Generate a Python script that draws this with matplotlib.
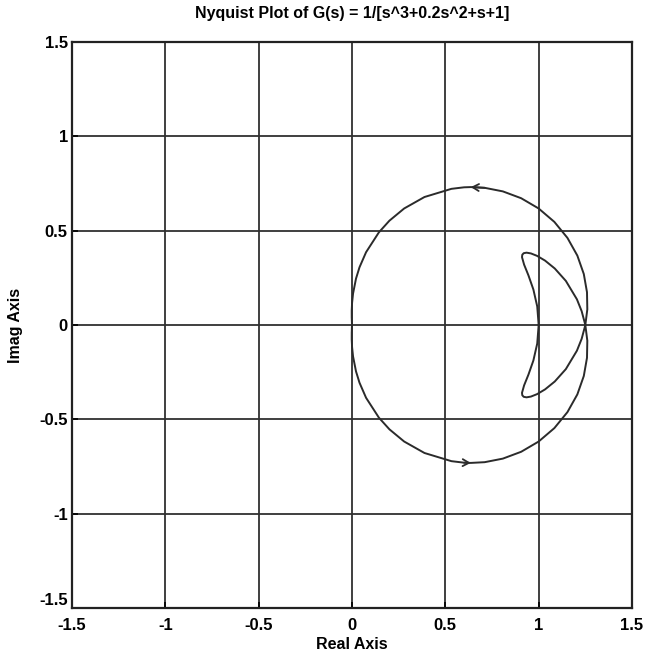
import matplotlib
matplotlib.use("Agg")
import matplotlib.pyplot as plt
import numpy as np

plt.rcParams['font.family'] = ['Liberation Sans', 'DejaVu Sans']
plt.rcParams['axes.unicode_minus'] = False

# G(jw), positive frequencies (w from 0 up)
re_pos = [1.0, 0.9923, 0.9717, 0.9453, 0.9220, 0.9107, 0.9123, 0.9200, 0.9351,
          0.9585, 0.9913, 1.0340, 1.0863, 1.1456, 1.2049, 1.2304, 1.25, 1.2606,
          1.2589, 1.2418, 1.2072, 1.1541, 1.0840, 0.9998, 0.9062, 0.8082, 0.7109,
          0.6362, 0.6004, 0.5326, 0.3883, 0.2794, 0.2004, 0.1441, 0.0754, 0.0402,
          0.0215, 0.0056, 0.0005, -0.0015, -0.0014, -0.0006, -0.0003, 0.0]
im_pos = [0.0, -0.0984, -0.1881, -0.2628, -0.3200, -0.3595, -0.3725, -0.3807, -0.3834,
          -0.3794, -0.3665, -0.3415, -0.2995, -0.2338, -0.1362, -0.0731, 0.0, 0.0828,
          0.1738, 0.2702, 0.3679, 0.4618, 0.5466, 0.6177, 0.6720, 0.7082, 0.7271,
          0.7310, 0.7298, 0.7217, 0.6784, 0.6176, 0.5529, 0.4911, 0.3859, 0.3060,
          0.2461, 0.1665, 0.1184, 0.0762, 0.0416, 0.0166, 0.0083, 0.0010]

ticks = [-1.5, -1, -0.5, 0, 0.5, 1, 1.5]
tick_labels = ['-1.5', '-1', '-0.5', '0', '0.5', '1', '1.5']

line_col = '#2b2b2b'

fig = plt.figure(figsize=(6.47, 6.54), dpi=100)
ax = fig.add_axes([72 / 647, 1 - 608 / 654, 560 / 647, 566 / 654])

re = np.array(re_pos)
im = np.array(im_pos)
ax.plot(re, im, color=line_col, lw=1.4)
ax.plot(re, -im, color=line_col, lw=1.4)  # negative frequencies (mirror)

# direction arrows
k = 27
arr = dict(arrowstyle='->,head_length=0.45,head_width=0.25', color=line_col,
           lw=1.3, shrinkA=0, shrinkB=0)
ax.annotate('', xy=(re[k], im[k]), xytext=(re[k - 1], im[k - 1]), arrowprops=arr)
ax.annotate('', xy=(re[k], -im[k]), xytext=(re[k + 1], -im[k + 1]), arrowprops=arr)

ax.set_xlim(-1.5, 1.5)
ax.set_ylim(-1.5, 1.5)
ax.set_xticks(ticks)
ax.set_yticks(ticks)
ax.set_xticklabels(tick_labels, fontsize=12, fontweight='bold')
ax.set_yticklabels(tick_labels, fontsize=12, fontweight='bold')
ax.tick_params(direction='in', length=4, width=1.2, pad=3)
ax.tick_params(axis='x', pad=7)
ax.get_yticklabels()[0].set_va('bottom')
ax.grid(True, color='#303030', lw=1.3, linestyle='-')
ax.set_axisbelow(True)
for s in ax.spines.values():
    s.set_linewidth(1.6)
    s.set_color('#222222')

ax.set_title('Nyquist Plot of G(s) = 1/[s^3+0.2s^2+s+1]', fontsize=11.5,
             fontweight='bold', pad=17)
ax.set_xlabel('Real Axis', fontsize=11.5, fontweight='bold', labelpad=3)
ax.set_ylabel('Imag Axis', fontsize=11.5, fontweight='bold', labelpad=12)

fig.savefig('out.png', dpi=100)
